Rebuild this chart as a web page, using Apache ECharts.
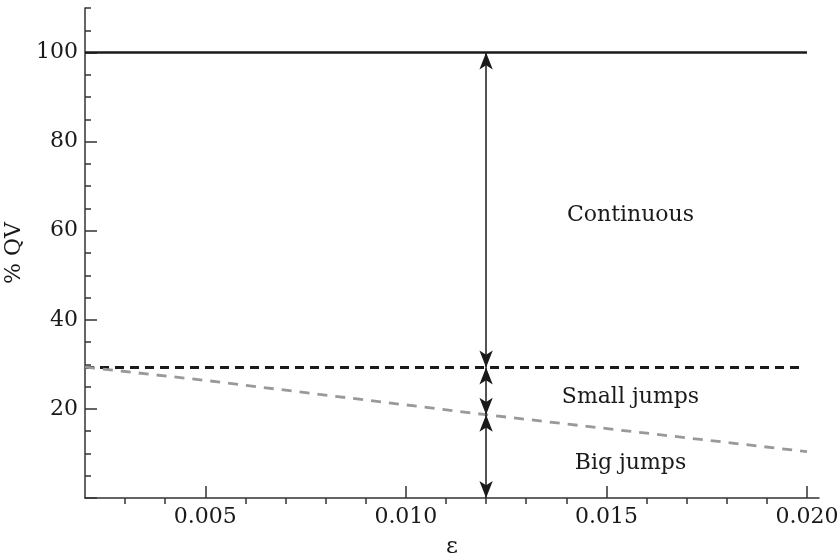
<!DOCTYPE html>
<html>
<head>
<meta charset="utf-8">
<script src="https://cdn.jsdelivr.net/npm/echarts@6/dist/echarts.min.js"></script>
<style>html,body{margin:0;padding:0;background:#fff;}#c{width:840px;height:559px;}</style>
</head>
<body>
<div id="c"></div>
<script>
// ---- data ----
const continuousX = [0.002, 0.020];
const continuousY = [100, 100];
const smallJumpBoundX = [0.002, 0.0199];
const smallJumpBoundY = [29.3, 29.3];
const bigJumpBoundX = [0.002, 0.005, 0.012, 0.020];
const bigJumpBoundY = [29.4, 26.4, 18.7, 10.4];
const arrowX = 0.012;
const arrowSegments = [[29.3, 100], [18.7, 29.3], [0, 18.7]];
const regionNames = ['Continuous', 'Small jumps', 'Big jumps'];
const regionX = [0.0156, 0.0156, 0.0156];
const regionY = [63.4, 22.5, 7.9];
const xMajorTicks = [0.005, 0.010, 0.015, 0.020];
const xMinorTicks = [0.003, 0.004, 0.006, 0.007, 0.008, 0.009, 0.011, 0.012, 0.013, 0.014, 0.016, 0.017, 0.018, 0.019];
const yMajorTicks = [0, 20, 40, 60, 80, 100];
const yLabelTicks = [20, 40, 60, 80, 100];
const yMinorTicks = [5, 10, 15, 25, 30, 35, 45, 50, 55, 65, 70, 75, 85, 90, 95, 105, 110];

const font = 'DejaVu Serif';
const axisColor = '#333';
const ink = '#1a1a1a';

function pairs(xs, ys) { return xs.map((x, i) => [x, ys[i]]); }

const baseX = {
  type: 'value', min: 0.002, max: 0.0203,
  splitLine: { show: false },
  axisLine: { show: true, lineStyle: { color: axisColor, width: 1.5 } }
};
const baseY = {
  type: 'value', min: 0, max: 110,
  splitLine: { show: false },
  axisLine: { show: true, lineStyle: { color: axisColor, width: 1.5 } }
};

const chart = echarts.init(document.getElementById('c'));
chart.setOption({
  animation: false,
  backgroundColor: '#fff',
  grid: { left: 85, right: 21, top: 8, bottom: 61, containLabel: false, outerBoundsMode: 'none' },
  xAxis: [
    Object.assign({}, baseX, {
      name: 'ε', nameLocation: 'middle', nameGap: 38,
      nameTextStyle: { fontFamily: font, fontSize: 23, color: ink },
      axisTick: { show: true, inside: true, length: 12, customValues: xMajorTicks, lineStyle: { color: axisColor, width: 1.5 } },
      axisLabel: { show: true, customValues: xMajorTicks, margin: 8, fontFamily: font, fontSize: 22, color: ink,
        formatter: v => v.toFixed(3) }
    }),
    Object.assign({}, baseX, {
      axisLine: { show: false },
      axisTick: { show: true, inside: true, length: 6, customValues: xMinorTicks, lineStyle: { color: axisColor, width: 1.5 } },
      axisLabel: { show: false }
    })
  ],
  yAxis: [
    Object.assign({}, baseY, {
      name: '% QV', nameLocation: 'middle', nameGap: 52, nameRotate: 90,
      nameTextStyle: { fontFamily: font, fontSize: 22, color: ink },
      axisTick: { show: true, inside: true, length: 12, customValues: yMajorTicks, lineStyle: { color: axisColor, width: 1.5 } },
      axisLabel: { show: true, customValues: yLabelTicks, margin: 7, fontFamily: font, fontSize: 22, color: ink }
    }),
    Object.assign({}, baseY, {
      position: 'left',
      axisLine: { show: false },
      axisTick: { show: true, inside: true, length: 6, customValues: yMinorTicks, lineStyle: { color: axisColor, width: 1.5 } },
      axisLabel: { show: false }
    })
  ],
  series: [
    {
      type: 'line', xAxisIndex: 0, yAxisIndex: 0, data: pairs(continuousX, continuousY),
      showSymbol: false, symbol: 'none', lineStyle: { color: ink, width: 2.4 }, silent: true,
      markLine: {
        silent: true, symbol: ['arrow', 'arrow'], symbolSize: [10, 17],
        label: { show: false },
        lineStyle: { color: ink, width: 1.5, type: 'solid' },
        emphasis: { disabled: true },
        data: arrowSegments.map(s => [{ coord: [arrowX, s[0]] }, { coord: [arrowX, s[1]] }])
      }
    },
    {
      type: 'line', xAxisIndex: 0, yAxisIndex: 0, data: pairs(smallJumpBoundX, smallJumpBoundY),
      showSymbol: false, symbol: 'none', silent: true,
      lineStyle: { color: ink, width: 2.8, type: [9, 6] }
    },
    {
      type: 'line', xAxisIndex: 0, yAxisIndex: 0, data: pairs(bigJumpBoundX, bigJumpBoundY),
      showSymbol: false, symbol: 'none', silent: true,
      lineStyle: { color: '#999', width: 2.8, type: [10, 8] }
    },
    {
      type: 'scatter', xAxisIndex: 0, yAxisIndex: 0, symbolSize: 0, silent: true,
      itemStyle: { opacity: 1 },
      data: regionNames.map((n, i) => ({ name: n, value: [regionX[i], regionY[i]] })),
      label: { show: true, position: 'inside', formatter: p => p.name, fontFamily: font, fontSize: 22, color: ink, opacity: 1 }
    }
  ]
});
</script>
</body>
</html>
